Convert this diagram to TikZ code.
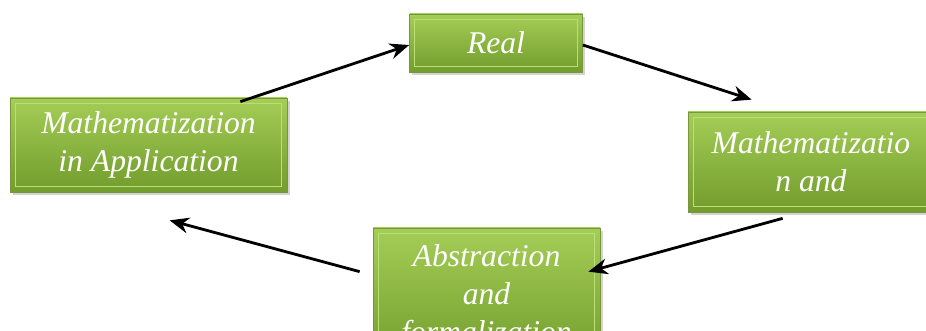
\documentclass[tikz,border=0pt]{standalone}
\usepackage{fontspec}
\newfontfamily\boxfont{Liberation Serif}
\usetikzlibrary{arrows.meta,shadows}
\definecolor{boxtop}{RGB}{164,206,86}
\definecolor{boxbot}{RGB}{114,156,44}
\definecolor{boxedge}{RGB}{120,150,60}
\definecolor{boxhi}{RGB}{188,222,120}
\tikzset{
  stage/.style={rectangle,draw=boxedge,line width=.4pt,
    top color=boxtop,bottom color=boxbot,
    drop shadow={shadow xshift=1.5pt,shadow yshift=-1.5pt,opacity=.35},
    path picture={\draw[boxhi,line width=.8pt]
      ([shift={(3pt,-3pt)}]path picture bounding box.north west) rectangle
      ([shift={(-3pt,3pt)}]path picture bounding box.south east);},
    text=white,align=center,inner sep=0pt,
    font=\boxfont\itshape\fontsize{18}{21.5}\selectfont},
  flow/.style={line width=1.6pt,-{Stealth[length=11pt,width=9pt]}}
}
\begin{document}
\begin{tikzpicture}
  \useasboundingbox (0,0) rectangle (18.52,-6.62);
  \clip (0,0) rectangle (18.52,-6.62);

  \node[stage,minimum width=3.46cm,minimum height=1.16cm] (real) at (9.92,-.86) {Real};
  \node[stage,minimum width=5.54cm,minimum height=1.88cm] (lft) at (2.97,-2.90) {Mathematization\\in Application};
  \node[stage,minimum width=4.92cm,minimum height=2.0cm] (rgt) at (16.22,-3.24) {Mathematizatio\\n and};
  \node[stage,minimum width=4.54cm,minimum height=2.76cm] (bot) at (9.73,-5.94) {Abstraction\\and\\formalization};

  \draw[flow] ([xshift=-.94cm,yshift=-.08cm]lft.north east) -- ([yshift=-.04cm]real.west);
  \draw[flow] ([yshift=-.04cm]real.east) -- ([xshift=1.28cm,yshift=.24cm]rgt.north west);
  \draw[flow] ([xshift=1.9cm,yshift=-.12cm]rgt.south west) -- ([xshift=-.24cm,yshift=-.88cm]bot.north east);
  \draw[flow] ([xshift=-.26cm,yshift=-.88cm]bot.north west) -- ([xshift=3.2cm,yshift=-.56cm]lft.south west);
\end{tikzpicture}
\end{document}
